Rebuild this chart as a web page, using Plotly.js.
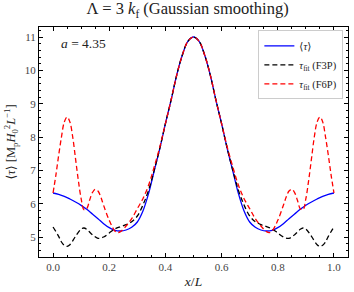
<!DOCTYPE html>
<html>
<head>
<meta charset="utf-8">
<script src="https://cdn.plot.ly/plotly-3.0.1.min.js"></script>
<style>html,body{margin:0;padding:0;background:#fff;}#chart{width:354px;height:292px;}</style>
</head>
<body>
<div id="chart"></div>
<script>
// <tau> (blue)
const xTau = [0.00,0.02,0.04,0.06,0.08,0.10,0.12,0.14,0.16,0.18,0.20,0.22,0.24,0.26,0.28,0.30,0.32,0.34,0.36,0.38,0.40,0.42,0.44,0.46,0.48,0.50,
              0.52,0.54,0.56,0.58,0.60,0.62,0.64,0.66,0.68,0.70,0.72,0.74,0.76,0.78,0.80,0.82,0.84,0.86,0.88,0.90,0.92,0.94,0.96,0.98,1.00];
const yTau = [6.32,6.28,6.22,6.14,6.05,5.95,5.83,5.69,5.55,5.40,5.28,5.20,5.18,5.21,5.29,5.45,5.78,6.30,6.98,7.65,8.40,9.10,9.85,10.45,10.87,11.00,
              10.87,10.45,9.85,9.10,8.40,7.65,6.98,6.30,5.78,5.45,5.29,5.21,5.18,5.20,5.28,5.40,5.55,5.69,5.83,5.95,6.05,6.14,6.22,6.28,6.32];

// tau_fit (F3P) (black dashed)
const xF3P = [0.00,0.02,0.03,0.04,0.05,0.06,0.08,0.10,0.11,0.12,0.14,0.16,0.18,0.20,0.22,0.24,0.26,0.28,0.30,0.32,0.34,0.36,0.38,0.40,0.42,0.44,0.46,0.48,0.50,
              0.52,0.54,0.56,0.58,0.60,0.62,0.64,0.66,0.68,0.70,0.72,0.74,0.76,0.78,0.80,0.82,0.84,0.86,0.88,0.89,0.90,0.92,0.94,0.95,0.96,0.97,0.98,1.00];
const yF3P = [5.30,5.02,4.85,4.75,4.72,4.77,5.02,5.24,5.27,5.23,5.07,4.96,5.00,5.12,5.24,5.31,5.37,5.46,5.63,5.96,6.40,7.00,7.66,8.40,9.10,9.85,10.45,10.87,11.00,
              10.87,10.45,9.85,9.10,8.40,7.66,7.00,6.40,5.96,5.63,5.46,5.37,5.31,5.24,5.12,5.00,4.96,5.07,5.23,5.27,5.24,5.02,4.77,4.72,4.75,4.85,5.02,5.30];

// tau_fit (F6P) (red dashed)
const xF6P = [0.00,0.01,0.02,0.03,0.04,0.05,0.06,0.07,0.08,0.09,0.10,0.11,0.12,0.13,0.14,0.15,0.16,0.17,0.18,0.20,0.22,0.23,0.24,0.26,0.28,0.30,0.32,0.34,0.36,0.38,0.40,0.42,0.44,0.46,0.48,0.50,
              0.52,0.54,0.56,0.58,0.60,0.62,0.64,0.66,0.68,0.70,0.72,0.74,0.76,0.77,0.78,0.80,0.82,0.83,0.84,0.85,0.86,0.87,0.88,0.89,0.90,0.91,0.92,0.93,0.94,0.95,0.96,0.97,0.98,0.99,1.00];
const yF6P = [6.32,6.85,7.45,8.00,8.45,8.60,8.45,8.00,7.35,6.70,6.15,5.82,5.85,6.10,6.33,6.43,6.38,6.20,5.95,5.50,5.18,5.13,5.16,5.33,5.55,5.85,6.15,6.55,7.10,7.70,8.40,9.10,9.85,10.45,10.87,11.00,
              10.87,10.45,9.85,9.10,8.40,7.70,7.10,6.55,6.15,5.85,5.55,5.33,5.16,5.13,5.18,5.50,5.95,6.20,6.38,6.43,6.33,6.10,5.85,5.82,6.15,6.70,7.35,8.00,8.45,8.60,8.45,8.00,7.45,6.85,6.32];

const serif = "Liberation Serif, DejaVu Serif, serif";

const traces = [
  {x: xTau, y: yTau, mode: "lines", name: "⟨<i>τ</i>⟩",
   line: {color: "#0000ff", width: 1.3, shape: "spline"}},
  {x: xF3P, y: yF3P, mode: "lines", name: "<i>τ</i><sub>fit</sub> (F3P)",
   line: {color: "#000000", width: 1.3, dash: "5px,3px", shape: "spline"}},
  {x: xF6P, y: yF6P, mode: "lines", name: "<i>τ</i><sub>fit</sub> (F6P)",
   line: {color: "#ff0000", width: 1.3, dash: "5px,3px", shape: "spline"}}
];

const axisCommon = {
  showline: true, linecolor: "#000", linewidth: 1, mirror: "allticks",
  ticks: "inside", ticklen: 4, tickwidth: 0.8, tickcolor: "#000",
  showgrid: false, zeroline: false,
  tickfont: {family: serif, size: 11, color: "#444"}
};

const layout = {
  width: 354, height: 292,
  margin: {l: 39, r: 6, t: 27, b: 35},
  paper_bgcolor: "#fff", plot_bgcolor: "#fff",
  font: {family: serif, color: "#222"},
  title: {text: "Λ = 3 <i>k</i><sub>f</sub> (Gaussian smoothing)", x: 0.53, xanchor: "center", y: 0.99, yanchor: "top",
          font: {family: serif, size: 16.5, color: "#222"}},
  xaxis: Object.assign({}, axisCommon, {
    range: [-0.05, 1.05], tickvals: [0, 0.2, 0.4, 0.6, 0.8, 1.0], ticktext: ["0.0","0.2","0.4","0.6","0.8","1.0"],
    minor: {dtick: 0.05, tick0: 0, ticks: "inside", ticklen: 2, tickcolor: "#000", tickwidth: 0.6},
    title: {text: "<i>x</i>/<i>L</i>", font: {family: serif, size: 13.5, color: "#222"}, standoff: 4}
  }),
  yaxis: Object.assign({}, axisCommon, {
    range: [4.4, 11.3], tickvals: [5,6,7,8,9,10,11],
    minor: {dtick: 0.2, tick0: 0, ticks: "inside", ticklen: 2, tickcolor: "#000", tickwidth: 0.6},
    title: {text: "⟨<i>τ</i>⟩ [M<sub>p</sub><i>H</i><sub>0</sub><sup>2</sup><i>L</i><sup>−1</sup>]", font: {family: serif, size: 12.5, color: "#222"}, standoff: 6}
  }),
  legend: {x: 0.985, y: 0.985, xanchor: "right", yanchor: "top",
           bgcolor: "rgba(255,255,255,0.9)", bordercolor: "#ccc", borderwidth: 1,
           font: {family: serif, size: 10.5, color: "#222"}, tracegroupgap: 0, itemwidth: 30},
  annotations: [{
    text: "<i>a</i> = 4.35", xref: "paper", yref: "paper", x: 0.065, y: 0.97, xanchor: "left", yanchor: "top",
    showarrow: false, font: {family: serif, size: 13.5, color: "#222"}
  }],
  showlegend: true
};

Plotly.newPlot("chart", traces, layout, {displayModeBar: false});
</script>
</body>
</html>
